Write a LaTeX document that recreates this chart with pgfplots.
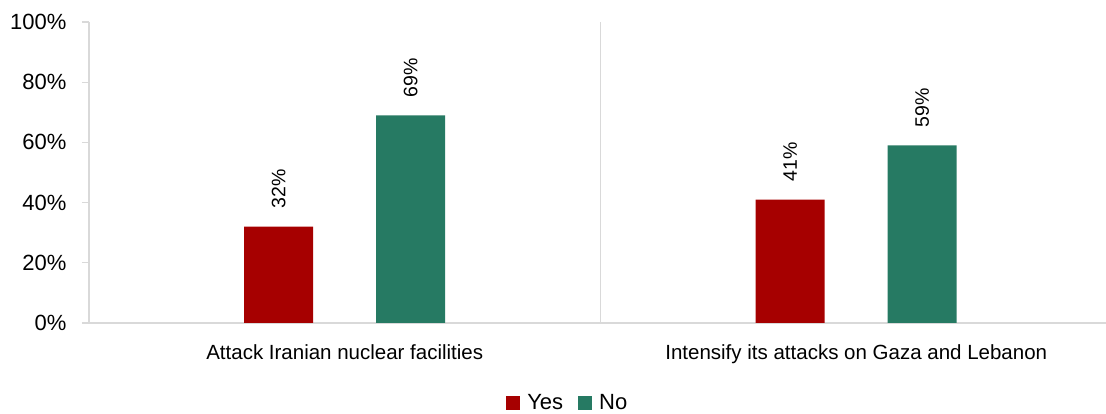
\documentclass[border=0pt]{standalone}
\usepackage{pgfplots}
\pgfplotsset{compat=1.18}
\usepackage{fontspec}
\setmainfont{Liberation Sans}

\definecolor{yesred}{RGB}{166,0,0}
\definecolor{nogreen}{RGB}{38,122,99}
\definecolor{axisgray}{RGB}{217,217,217}

\pgfplotsset{
  squarelegend/.style={
    legend image code/.code={\fill[##1,draw=none] (0pt,-7pt) rectangle (14pt,7pt);}
  }
}

\begin{document}
\begin{tikzpicture}
% page frame: the axis box sits at (0,0), its right end runs past the edge
\useasboundingbox (-89pt,-91pt) rectangle (1017pt,323pt);
\begin{axis}[
  name=ax,
  at={(0,0)}, anchor=south west,
  scale only axis,
  width=1023pt, height=301pt,
  xmin=-0.5, xmax=1.5,
  ymin=0, ymax=100,
  ybar, bar width=69pt,
  xtick={0,1},
  xticklabels={Attack Iranian nuclear facilities, Intensify its attacks on Gaza and Lebanon},
  x tick label style={font=\fontsize{20.5}{24}\selectfont, yshift=-11pt},
  major x tick style={draw=none},
  extra x ticks={0.5},
  extra x tick labels={},
  extra x tick style={grid=major, major grid style={axisgray, line width=1.2pt}, major tick length=0pt},
  ytick={0,20,40,60,80,100},
  yticklabel={\pgfmathprintnumber{\tick}\%},
  y tick label style={font=\fontsize{22}{26}\selectfont, xshift=-12pt},
  /pgf/number format/assume math mode=true,
  ytick pos=left,
  tick align=outside,
  major tick length=7pt,
  y tick style={axisgray, line width=1.2pt},
  axis x line*=bottom,
  axis y line*=left,
  axis line style={axisgray, line width=1.2pt, -},
  separate axis lines,
  nodes near coords={\pgfmathprintnumber{\pgfplotspointmeta}\%},
  every node near coord/.append style={font=\fontsize{19.5}{24}\selectfont, rotate=90, anchor=west, inner xsep=18pt, black},
  legend style={at={(0.468,-0.266)}, anchor=center, draw=none, legend columns=-1,
    font=\fontsize{22}{26}\selectfont, inner xsep=2pt,
    /tikz/every odd column/.append style={column sep=5pt},
    /tikz/every even column/.append style={column sep=13pt}},
  squarelegend,
  clip=false,
]
\addplot[fill=yesred, draw=none, bar shift=-66pt] coordinates {(0,32) (1,41)};
\addplot[fill=nogreen, draw=none, bar shift=66pt] coordinates {(0,69) (1,59)};
\legend{Yes, No}
\end{axis}
\end{tikzpicture}
\end{document}
